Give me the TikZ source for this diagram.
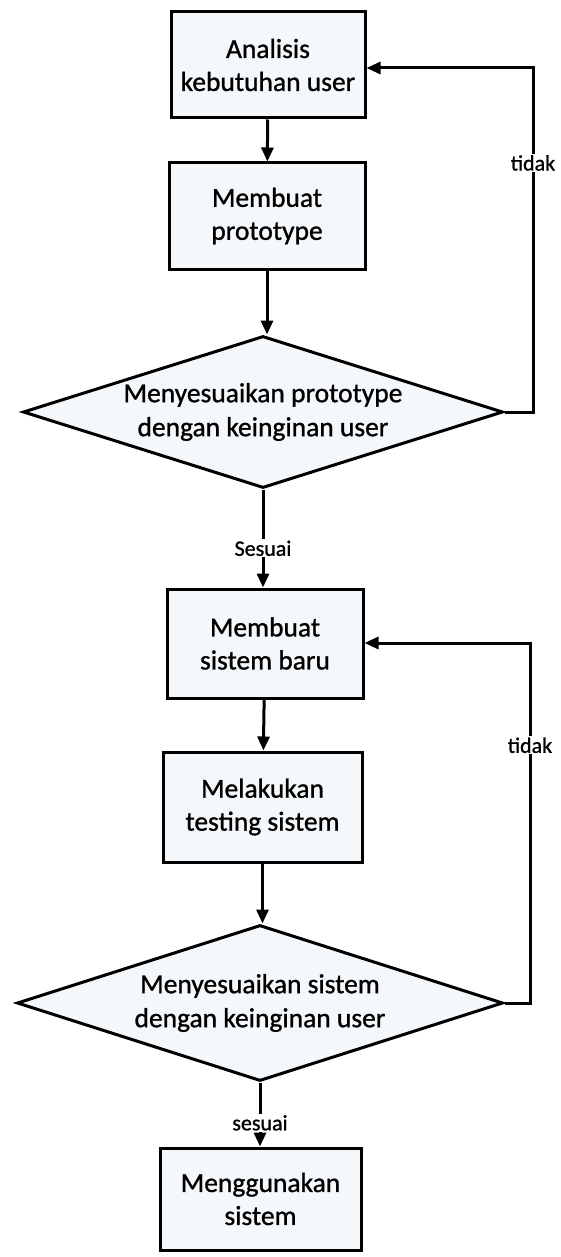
\documentclass[tikz,border=0pt]{standalone}
\usepackage{fontspec}
\setmainfont{Carlito}[FakeBold=1]
\usetikzlibrary{shapes.geometric,arrows.meta}
\definecolor{boxfill}{RGB}{245,248,250}
\tikzset{
  every picture/.style={x=1pt,y=1pt},
  arr/.style={line width=3pt,-{Triangle[length=14pt,width=12pt]}},
  stepbox/.style={draw,line width=3pt,fill=boxfill,inner sep=0pt,align=center,
    font=\fontsize{27.5}{33}\selectfont},
  dia/.style={draw,line width=3pt,fill=boxfill,shape=diamond,inner sep=0pt},
  diatext/.style={align=center,font=\fontsize{27.5}{34}\selectfont,inner sep=0pt},
  lab/.style={fill=white,inner sep=1.5pt,font=\fontsize{22}{24}\selectfont}
}
\begin{document}
\begin{tikzpicture}
\useasboundingbox[fill=white] (0,0) rectangle (561,-1257);
\node[stepbox,minimum width=194pt,minimum height=106pt] (b1) at (268,-65) {Analisis\\kebutuhan user};
\node[stepbox,minimum width=196pt,minimum height=106pt] (b2) at (267,-216) {Membuat\\prototype};
\node[dia,minimum width=480pt,minimum height=152pt] (d1) at (263,-412) {};
\node[diatext] (t1) at (d1.center) {Menyesuaikan prototype\\dengan keinginan user};
\node[stepbox,minimum width=196pt,minimum height=109pt] (b3) at (265,-643.5) {Membuat\\sistem baru};
\node[stepbox,minimum width=199pt,minimum height=110pt] (b4) at (262.5,-807) {Melakukan\\testing sistem};
\node[dia,minimum width=486pt,minimum height=156pt] (d2) at (260,-1003) {};
\node[diatext] (t2) at (d2.center) {Menyesuaikan sistem\\dengan keinginan user};
\node[stepbox,minimum width=201pt,minimum height=102pt] (b5) at (260.5,-1199) {Menggunakan\\sistem};
\coordinate (r1) at (533,-68);
\coordinate (r2) at (530,-643);
\draw[arr] (b1) -- (b2);
\draw[arr] (b2.south) -- (b2.south |- d1.north);
\draw[arr] (d1.south) -- node[lab,pos=0.6] {Sesuai} (d1.south |- b3.north);
\draw[arr] (b3) -- (b4);
\draw[arr] (b4.south) -- (b4.south |- d2.north);
\draw[arr] (d2.south) -- node[lab,pos=0.63] {sesuai} (d2.south |- b5.north);
\draw[arr] (d1.east) -| node[lab,pos=0.862] {tidak} (r1) -- (r1 -| b1.east);
\draw[arr] (d2.east) -| node[lab,pos=0.858] {tidak} (r2) -- (r2 -| b3.east);
\end{tikzpicture}
\end{document}
